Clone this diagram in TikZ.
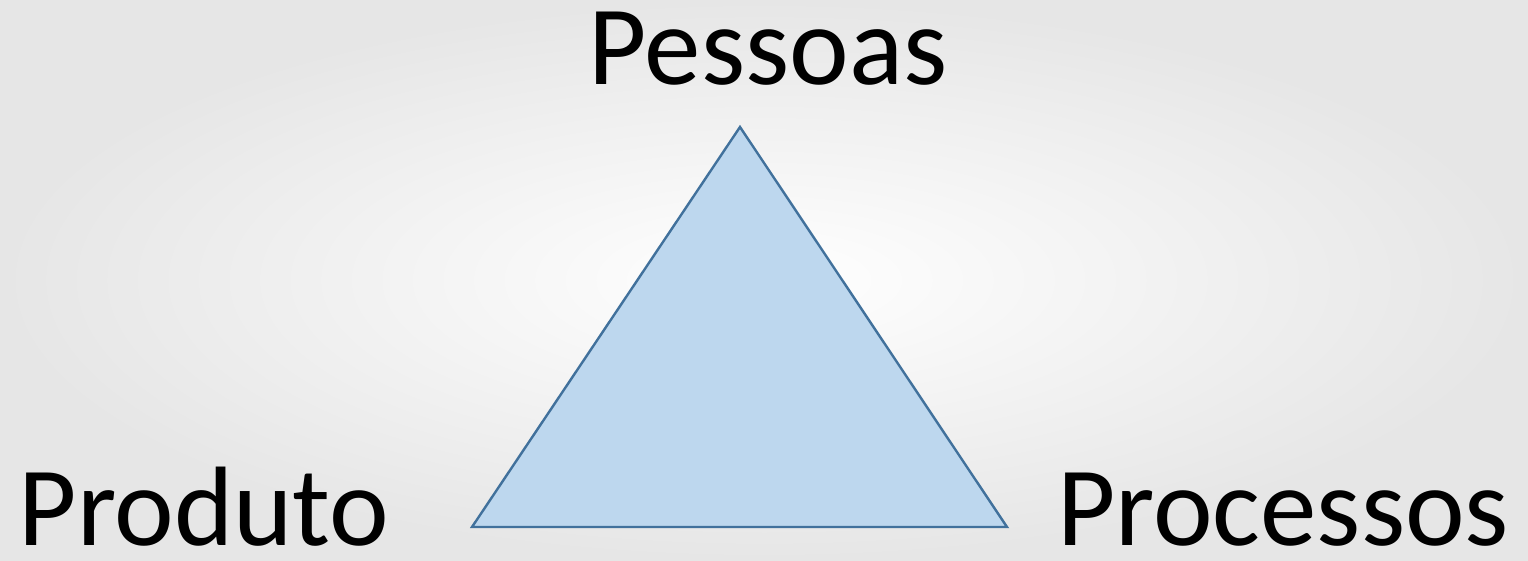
\documentclass[tikz,border=0pt]{standalone}
\usepackage{fontspec}
\setmainfont{Carlito}
\definecolor{trifill}{HTML}{BDD7EE}
\definecolor{triline}{HTML}{41719C}
\definecolor{bgedge}{HTML}{E6E6E6}
\begin{document}
\begin{tikzpicture}[x=1pt,y=1pt,
  label/.style={font=\fontsize{113}{120}\selectfont, text=black, inner sep=0pt, anchor=base, text depth=0pt},
  tri/.style={fill=trifill, draw=triline, line width=2.4pt, line join=miter}]
\shade[inner color=white, outer color=bgedge] (0,0) rectangle (1528,560);
\useasboundingbox (0,0) rectangle (1528,560);
\coordinate (top) at (740,433);
\coordinate (bl) at (472,33);
\coordinate (br) at (1007,33);
\draw[tri] (top) -- (bl) -- (br) -- cycle;
\node[label] (pessoas) at (768,475) {Pessoas};
\node[label] (produto) at (204,15) {Produto};
\node[label] (processos) at (1283,15) {Processos};
\end{tikzpicture}
\end{document}
